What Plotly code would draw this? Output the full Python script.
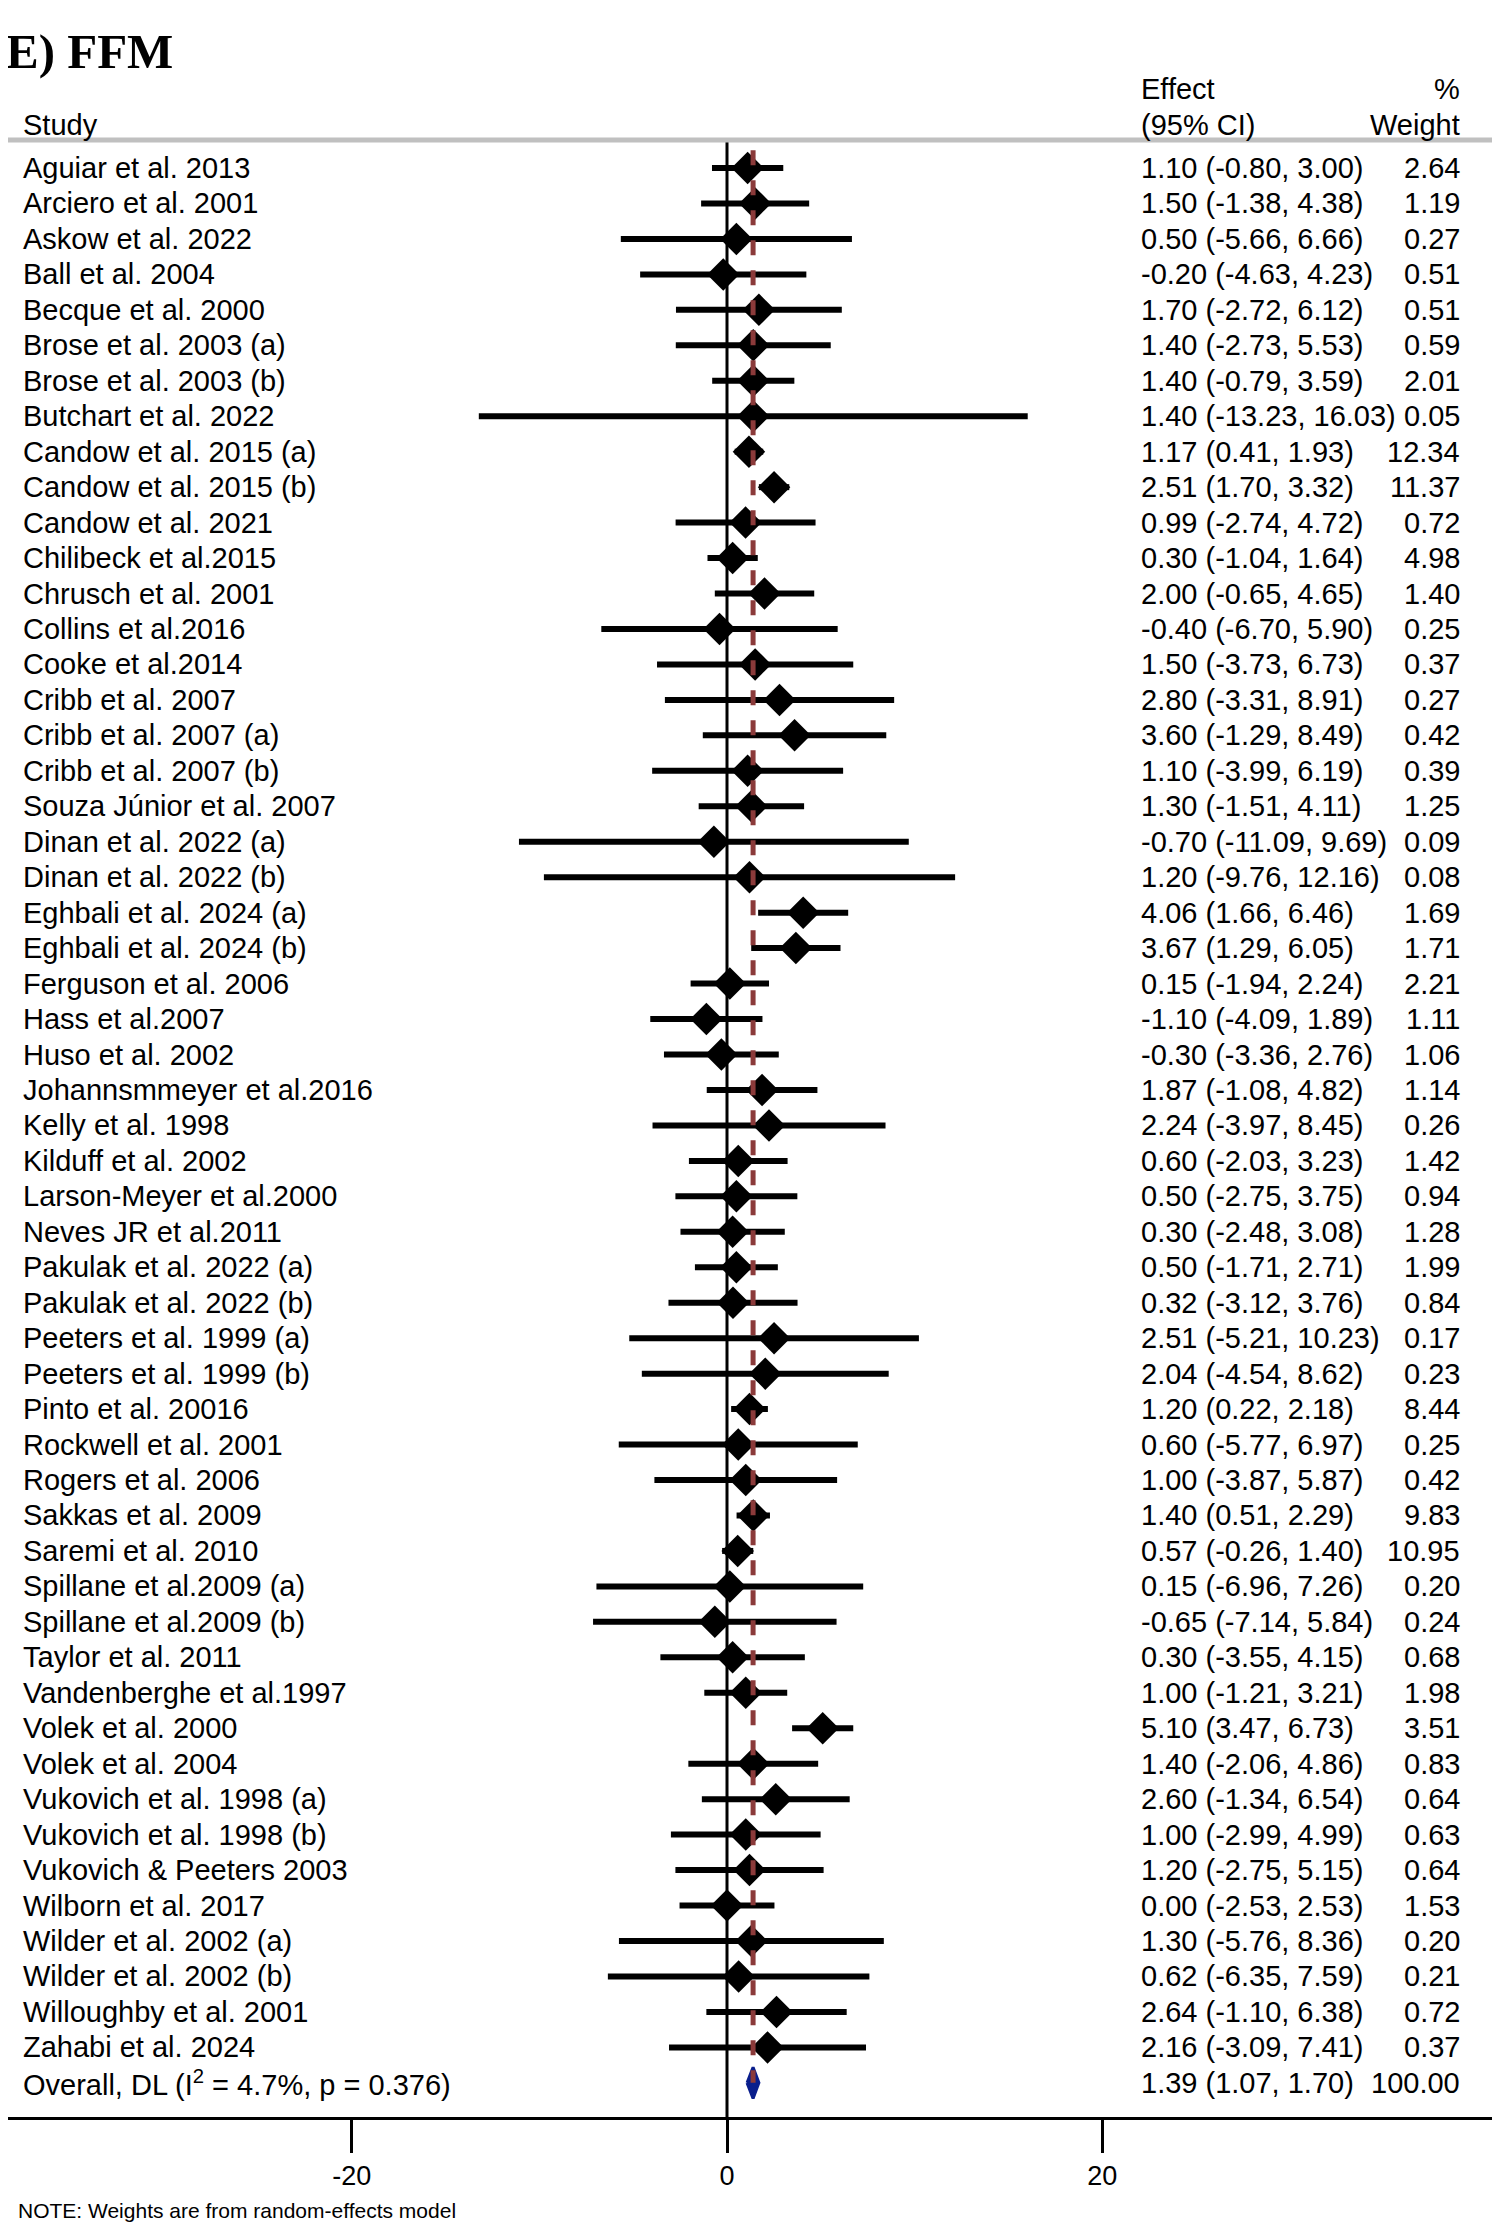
import plotly.graph_objects as go

studies = [
    "Aguiar et al. 2013", "Arciero et al. 2001", "Askow et al. 2022", "Ball et al. 2004",
    "Becque et al. 2000", "Brose et al. 2003 (a)", "Brose et al. 2003 (b)", "Butchart et al. 2022",
    "Candow et al. 2015 (a)", "Candow et al. 2015 (b)", "Candow et al. 2021", "Chilibeck et al.2015",
    "Chrusch et al. 2001", "Collins et al.2016", "Cooke et al.2014", "Cribb et al. 2007",
    "Cribb et al. 2007 (a)", "Cribb et al. 2007 (b)", "Souza Júnior et al. 2007", "Dinan et al. 2022 (a)",
    "Dinan et al. 2022 (b)", "Eghbali et al. 2024 (a)", "Eghbali et al. 2024 (b)", "Ferguson et al. 2006",
    "Hass et al.2007", "Huso et al. 2002", "Johannsmmeyer et al.2016", "Kelly et al. 1998",
    "Kilduff et al. 2002", "Larson-Meyer et al.2000", "Neves JR et al.2011", "Pakulak et al. 2022 (a)",
    "Pakulak et al. 2022 (b)", "Peeters et al. 1999 (a)", "Peeters et al. 1999 (b)", "Pinto et al. 20016",
    "Rockwell et al. 2001", "Rogers et al. 2006", "Sakkas et al. 2009", "Saremi et al. 2010",
    "Spillane et al.2009 (a)", "Spillane et al.2009 (b)", "Taylor et al. 2011", "Vandenberghe et al.1997",
    "Volek et al. 2000", "Volek et al. 2004", "Vukovich et al. 1998 (a)", "Vukovich et al. 1998 (b)",
    "Vukovich & Peeters 2003", "Wilborn et al. 2017", "Wilder et al. 2002 (a)", "Wilder et al. 2002 (b)",
    "Willoughby et al. 2001", "Zahabi et al. 2024",
]
effect = [1.10, 1.50, 0.50, -0.20, 1.70, 1.40, 1.40, 1.40, 1.17, 2.51, 0.99, 0.30, 2.00, -0.40,
          1.50, 2.80, 3.60, 1.10, 1.30, -0.70, 1.20, 4.06, 3.67, 0.15, -1.10, -0.30, 1.87, 2.24,
          0.60, 0.50, 0.30, 0.50, 0.32, 2.51, 2.04, 1.20, 0.60, 1.00, 1.40, 0.57, 0.15, -0.65,
          0.30, 1.00, 5.10, 1.40, 2.60, 1.00, 1.20, 0.00, 1.30, 0.62, 2.64, 2.16]
lower = [-0.80, -1.38, -5.66, -4.63, -2.72, -2.73, -0.79, -13.23, 0.41, 1.70, -2.74, -1.04, -0.65,
         -6.70, -3.73, -3.31, -1.29, -3.99, -1.51, -11.09, -9.76, 1.66, 1.29, -1.94, -4.09, -3.36,
         -1.08, -3.97, -2.03, -2.75, -2.48, -1.71, -3.12, -5.21, -4.54, 0.22, -5.77, -3.87, 0.51,
         -0.26, -6.96, -7.14, -3.55, -1.21, 3.47, -2.06, -1.34, -2.99, -2.75, -2.53, -5.76, -6.35,
         -1.10, -3.09]
upper = [3.00, 4.38, 6.66, 4.23, 6.12, 5.53, 3.59, 16.03, 1.93, 3.32, 4.72, 1.64, 4.65, 5.90,
         6.73, 8.91, 8.49, 6.19, 4.11, 9.69, 12.16, 6.46, 6.05, 2.24, 1.89, 2.76, 4.82, 8.45,
         3.23, 3.75, 3.08, 2.71, 3.76, 10.23, 8.62, 2.18, 6.97, 5.87, 2.29, 1.40, 7.26, 5.84,
         4.15, 3.21, 6.73, 4.86, 6.54, 4.99, 5.15, 2.53, 8.36, 7.59, 6.38, 7.41]
weight = [2.64, 1.19, 0.27, 0.51, 0.51, 0.59, 2.01, 0.05, 12.34, 11.37, 0.72, 4.98, 1.40, 0.25,
          0.37, 0.27, 0.42, 0.39, 1.25, 0.09, 0.08, 1.69, 1.71, 2.21, 1.11, 1.06, 1.14, 0.26,
          1.42, 0.94, 1.28, 1.99, 0.84, 0.17, 0.23, 8.44, 0.25, 0.42, 9.83, 10.95, 0.20, 0.24,
          0.68, 1.98, 3.51, 0.83, 0.64, 0.63, 0.64, 1.53, 0.20, 0.21, 0.72, 0.37]
overall_label = "Overall, DL (I<sup>2</sup> = 4.7%, p = 0.376)"
overall_effect, overall_lower, overall_upper = 1.39, 1.07, 1.70
tick_vals = [-20, 0, 20]

W, H = 1500, 2236
OFF = 8  # page body margin
row0, step = 168 - OFF, 35.46
rows = list(range(len(studies)))
n = len(studies)

FONT = "Liberation Sans, Arial, sans-serif"
fs = 29
fig = go.Figure()

fig.add_trace(go.Scatter(
    x=effect, y=rows, mode="markers",
    marker=dict(symbol="diamond", size=25, color="black"),
    error_x=dict(type="data", symmetric=False,
                 array=[u - e for u, e in zip(upper, effect)],
                 arrayminus=[e - l for e, l in zip(effect, lower)],
                 color="black", thickness=6, width=0),
    showlegend=False,
))
# overall diamond
h = 0.44
fig.add_trace(go.Scatter(
    x=[overall_lower, overall_effect, overall_upper, overall_effect, overall_lower],
    y=[n, n - h, n, n + h, n], mode="lines", fill="toself",
    fillcolor="#0a1e8c", line=dict(color="#0a1e8c", width=3), showlegend=False,
))

ymin = -row0 / step
ymax = (H - row0) / step
xmin = -(727 - OFF) / 18.76
xmax = (W - 727 + OFF) / 18.76


def px(p):
    return (p - OFF) / W


def top(p):
    return 1 - (p - OFF) / H


shapes = [
    dict(type="line", xref="x", yref="y", x0=0, x1=0, y0=(140 - 168) / step, y1=(2118 - 168) / step,
         line=dict(color="black", width=3)),
    dict(type="line", xref="x", yref="y", x0=overall_effect, x1=overall_effect, y0=-0.5, y1=n,
         line=dict(color="#8b3a3a", width=5, dash="dash")),
    dict(type="line", xref="paper", yref="paper", x0=0, x1=1, y0=top(140), y1=top(140),
         line=dict(color="#c0c0c0", width=5)),
]

ann = []
for i, s in enumerate(studies + [overall_label]):
    ann.append(dict(x=px(21), y=i, xref="paper", yref="y", text=s, showarrow=False,
                    xanchor="left", font=dict(size=fs)))
effs = effect + [overall_effect]
los = lower + [overall_lower]
ups = upper + [overall_upper]
wts = [f"{w:.2f}" for w in weight] + ["100.00"]
for i in range(n + 1):
    ann.append(dict(x=px(1139), y=i, xref="paper", yref="y",
                    text=f"{effs[i]:.2f} ({los[i]:.2f}, {ups[i]:.2f})", showarrow=False,
                    xanchor="left", font=dict(size=fs)))
    ann.append(dict(x=px(1462), y=i, xref="paper", yref="y", text=wts[i], showarrow=False,
                    xanchor="right", font=dict(size=fs)))

hdr = [
    dict(x=px(21), y=top(107), text="Study", xanchor="left"),
    dict(x=px(1139), y=top(71), text="Effect", xanchor="left"),
    dict(x=px(1139), y=top(107), text="(95% CI)", xanchor="left"),
    dict(x=px(1462), y=top(71), text="%", xanchor="right"),
    dict(x=px(1462), y=top(107), text="Weight", xanchor="right"),
]
for a in hdr:
    a.update(xref="paper", yref="paper", showarrow=False, font=dict(size=fs))
ann += hdr
ann.append(dict(x=px(4), y=top(22), xref="paper", yref="paper", text="<b>E) FFM</b>",
                showarrow=False, xanchor="left",
                font=dict(size=49, family="Liberation Serif, Times New Roman, serif")))
ann.append(dict(x=px(16), y=top(2224), xref="paper", yref="paper",
                text="NOTE: Weights are from random-effects model", showarrow=False,
                xanchor="left", font=dict(size=21)))

fig.update_layout(
    width=W, height=H, margin=dict(l=0, r=0, t=0, b=0),
    plot_bgcolor="white", paper_bgcolor="white",
    font=dict(family=FONT, color="black", size=fs),
    shapes=shapes, annotations=ann,
    xaxis=dict(range=[xmin, xmax], tickvals=tick_vals, ticktext=[str(v) for v in tick_vals],
               showgrid=False, zeroline=False, showline=True, linecolor="black", linewidth=3,
               ticks="outside", ticklen=33, tickwidth=3, tickcolor="black",
               anchor="free", position=top(2118), tickfont=dict(size=27)),
    yaxis=dict(range=[ymax, ymin], visible=False),
)

fig.write_html("out.html")
